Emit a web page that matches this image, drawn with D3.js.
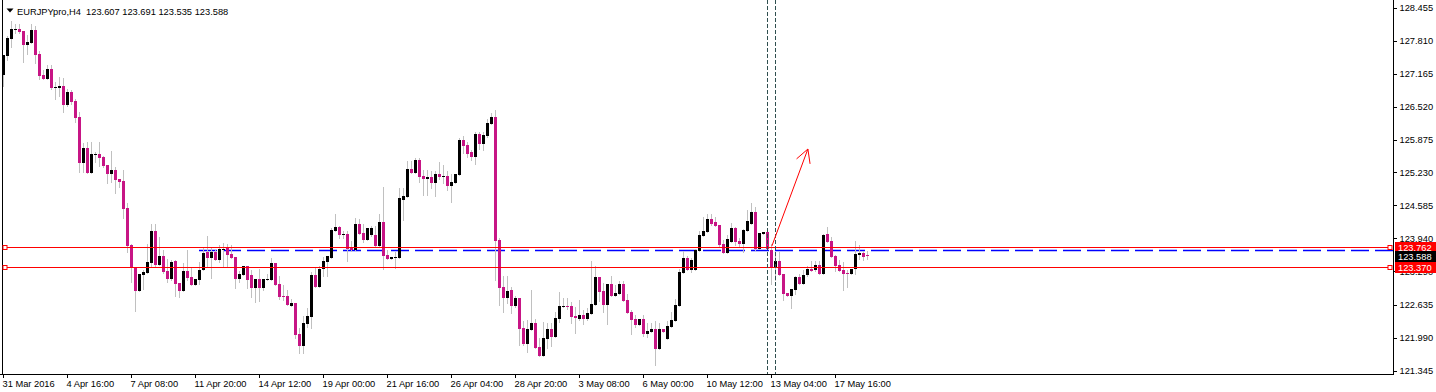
<!DOCTYPE html>
<meta charset="utf-8">
<script src="https://cdn.jsdelivr.net/npm/d3@7"></script>
<style>
    body { margin: 0; background: #fff; }
    svg text { font-family: "Liberation Sans", Arial, sans-serif; font-size: 9.3px; }
</style>
<div id="vis"></div>
<script>
    // EURJPYpro H4 bars, 31 Mar 2016 .. 18 May 2016
    var opens = [
        127.141, 127.514, 127.847, 128.024, 128.043, 128.004, 127.730, 127.769, 128.024, 127.553,
        127.141, 127.063, 127.259, 126.887, 126.887, 126.926, 126.553, 126.808, 126.632, 126.318,
        125.416, 125.710, 125.220, 125.573, 125.592, 125.534, 125.377, 125.200, 125.279, 125.102,
        125.063, 124.534, 123.808, 123.377, 122.906, 123.220, 123.259, 123.455, 124.083, 123.416,
        123.592, 123.298, 123.141, 123.494, 123.063, 122.906, 123.298, 123.181, 123.024, 123.122,
        123.318, 123.671, 123.553, 123.671, 123.514, 123.710, 123.749, 123.632, 123.573, 123.141,
        123.220, 123.396, 123.220, 122.965, 123.141, 122.965, 123.122, 123.122, 123.455, 123.043,
        122.808, 122.808, 122.612, 122.671, 122.063, 121.828, 122.259, 122.396, 123.220, 122.985,
        123.337, 123.475, 123.553, 124.083, 124.161, 124.004, 124.024, 123.769, 123.710, 124.220,
        124.043, 123.906, 124.004, 124.004, 123.788, 124.259, 123.612, 123.534, 123.553, 123.553,
        124.690, 124.749, 125.298, 125.220, 125.475, 125.161, 125.102, 125.141, 125.024, 125.200,
        125.141, 125.161, 124.965, 125.024, 125.181, 125.867, 125.769, 125.632, 125.534, 125.985,
        125.788, 125.945, 126.181, 126.318, 123.906, 122.985, 122.769, 122.926, 122.612, 122.769,
        122.181, 121.867, 122.141, 122.279, 121.808, 121.632, 121.965, 122.161, 122.004, 122.357,
        122.592, 122.612, 122.612, 122.416, 122.357, 122.436, 122.357, 122.455, 122.632, 123.181,
        122.906, 122.632, 123.043, 122.808, 122.847, 123.043, 122.730, 122.494, 122.357, 122.239,
        122.357, 122.063, 122.102, 122.161, 121.769, 122.161, 121.965, 122.200, 122.318, 122.612,
        123.259, 123.553, 123.318, 123.318, 123.690, 123.985, 124.063, 124.318, 124.259, 124.200,
        123.828, 123.651, 123.867, 124.141, 123.887, 123.828, 124.083, 124.220, 124.455, 123.730,
        124.024, 124.063, 123.710, 123.377, 123.494, 123.239, 122.867, 122.808, 122.926, 123.181,
        123.043, 123.220, 123.337, 123.318, 123.416, 123.239, 124.024, 123.887, 123.592, 123.416,
        123.318, 123.259, 123.239, 123.337, 123.612, 123.651, 123.607
    ];
    var highs = [
        127.534, 127.906, 128.200, 128.141, 128.141, 128.004, 127.926, 128.141, 128.102, 127.612,
        127.239, 127.337, 127.337, 127.004, 127.102, 127.083, 126.867, 126.847, 126.671, 126.416,
        125.808, 125.828, 125.828, 125.632, 125.828, 125.553, 125.377, 125.651, 125.337, 125.102,
        125.279, 124.632, 123.828, 123.377, 123.239, 123.318, 123.828, 124.220, 124.220, 123.965,
        123.710, 123.534, 123.514, 123.514, 123.063, 123.455, 123.710, 123.357, 123.141, 123.475,
        123.769, 123.985, 123.769, 123.710, 123.808, 123.847, 123.828, 123.808, 123.573, 123.298,
        123.396, 123.396, 123.318, 123.141, 123.337, 123.141, 123.239, 123.553, 123.455, 123.200,
        123.024, 122.926, 122.749, 122.671, 122.181, 122.416, 122.573, 123.279, 123.357, 123.396,
        123.573, 123.592, 124.141, 124.416, 124.181, 124.083, 124.083, 123.887, 124.337, 124.318,
        124.220, 124.141, 124.181, 124.181, 124.416, 124.945, 123.710, 123.573, 123.671, 124.926,
        124.926, 125.455, 125.455, 125.514, 125.514, 125.279, 125.279, 125.259, 125.259, 125.436,
        125.377, 125.259, 125.200, 125.200, 125.906, 125.945, 125.828, 125.671, 126.024, 126.024,
        126.024, 126.279, 126.396, 126.455, 123.945, 123.200, 123.200, 122.985, 122.808, 122.769,
        122.318, 122.337, 122.926, 122.357, 121.985, 122.298, 122.279, 122.279, 122.494, 122.887,
        122.769, 122.769, 122.690, 122.592, 122.730, 122.534, 122.573, 123.494, 123.396, 123.181,
        123.063, 123.043, 123.200, 123.024, 123.102, 123.102, 122.847, 122.534, 122.436, 122.357,
        122.436, 122.279, 122.279, 122.318, 122.279, 122.161, 122.318, 122.494, 122.749, 123.337,
        123.690, 123.592, 123.553, 123.730, 124.083, 124.357, 124.416, 124.416, 124.357, 124.200,
        123.906, 124.004, 124.239, 124.161, 123.945, 124.122, 124.494, 124.632, 124.553, 124.043,
        124.063, 124.102, 123.828, 123.671, 123.671, 123.239, 122.867, 122.945, 123.200, 123.239,
        123.318, 123.396, 123.494, 123.494, 123.494, 124.024, 124.161, 123.965, 123.612, 123.514,
        123.475, 123.318, 123.337, 123.887, 123.808, 123.690, 123.691
    ];
    var lows = [
        126.926, 127.436, 127.690, 127.965, 127.965, 127.396, 127.553, 127.769, 127.377, 127.063,
        127.063, 127.063, 126.867, 126.671, 126.730, 126.416, 126.534, 126.573, 126.220, 125.239,
        125.239, 125.220, 125.220, 125.436, 125.357, 125.337, 125.024, 125.043, 124.828, 124.945,
        124.337, 123.671, 123.083, 122.514, 122.906, 122.945, 123.259, 123.396, 123.396, 123.416,
        123.259, 123.083, 123.122, 122.808, 122.788, 122.906, 123.122, 123.024, 123.024, 123.043,
        123.318, 123.377, 123.161, 123.514, 123.475, 123.396, 123.396, 123.553, 122.965, 123.083,
        123.220, 122.965, 122.788, 122.690, 122.710, 122.926, 123.122, 123.122, 123.024, 122.749,
        122.730, 122.632, 122.612, 121.985, 121.690, 121.690, 122.200, 122.181, 122.985, 122.985,
        123.200, 123.200, 123.553, 124.083, 123.945, 123.945, 123.494, 123.690, 123.710, 124.024,
        123.867, 123.906, 123.985, 123.769, 123.788, 123.337, 123.534, 123.534, 123.357, 123.553,
        124.298, 124.749, 125.220, 125.220, 125.043, 124.788, 124.788, 124.926, 124.769, 125.102,
        125.024, 124.887, 124.651, 125.024, 125.181, 125.612, 125.534, 125.475, 125.396, 125.690,
        125.671, 125.926, 126.181, 123.122, 122.632, 122.494, 122.671, 122.475, 122.592, 121.847,
        121.847, 121.710, 122.141, 121.788, 121.632, 121.632, 121.788, 121.828, 122.004, 122.298,
        122.592, 122.553, 122.279, 122.083, 122.337, 122.259, 122.337, 122.455, 122.632, 122.710,
        122.494, 122.259, 122.808, 122.808, 122.847, 122.710, 122.475, 122.063, 122.200, 122.239,
        122.024, 122.004, 122.102, 121.455, 121.769, 122.102, 121.965, 122.200, 122.318, 122.612,
        123.259, 123.318, 123.279, 123.318, 123.690, 123.985, 124.063, 124.200, 124.181, 123.788,
        123.651, 123.651, 123.867, 123.808, 123.788, 123.671, 124.083, 124.220, 123.710, 123.730,
        124.024, 123.730, 123.043, 123.122, 123.220, 122.730, 122.808, 122.573, 122.847, 123.043,
        123.043, 123.200, 123.298, 123.298, 123.239, 123.239, 123.867, 123.573, 123.298, 123.298,
        122.926, 122.985, 123.239, 123.239, 123.534, 123.514, 123.535
    ];
    var closes = [
        127.534, 127.867, 128.043, 128.043, 127.985, 127.730, 127.788, 128.024, 127.534, 127.122,
        127.063, 127.259, 126.887, 126.906, 126.926, 126.553, 126.808, 126.612, 126.298, 125.416,
        125.710, 125.220, 125.592, 125.592, 125.514, 125.357, 125.200, 125.279, 125.083, 125.043,
        124.514, 123.788, 123.357, 122.906, 123.239, 123.279, 123.475, 124.083, 123.416, 123.592,
        123.279, 123.141, 123.475, 123.043, 122.906, 123.298, 123.161, 123.024, 123.141, 123.318,
        123.651, 123.553, 123.671, 123.514, 123.730, 123.730, 123.612, 123.553, 123.141, 123.239,
        123.396, 123.122, 122.965, 123.141, 122.965, 123.141, 123.141, 123.455, 123.024, 122.788,
        122.788, 122.632, 122.671, 122.043, 121.828, 122.279, 122.416, 123.220, 122.985, 123.337,
        123.494, 123.592, 124.102, 124.161, 124.004, 124.024, 123.730, 123.710, 124.220, 124.024,
        123.906, 124.141, 124.141, 123.788, 124.259, 123.592, 123.534, 123.573, 123.573, 124.730,
        124.769, 125.298, 125.220, 125.475, 125.141, 125.102, 125.141, 125.024, 125.200, 125.141,
        125.161, 124.965, 125.043, 125.200, 125.867, 125.749, 125.592, 125.534, 125.985, 125.788,
        125.965, 126.200, 126.318, 123.887, 122.965, 122.769, 122.906, 122.612, 122.769, 122.161,
        121.867, 122.161, 122.279, 121.788, 121.632, 121.985, 122.161, 122.004, 122.377, 122.612,
        122.612, 122.592, 122.396, 122.377, 122.436, 122.357, 122.475, 122.651, 123.181, 122.887,
        122.632, 123.043, 122.808, 122.867, 123.043, 122.710, 122.475, 122.337, 122.239, 122.357,
        122.063, 122.122, 122.161, 121.769, 122.161, 122.102, 122.220, 122.337, 122.632, 123.279,
        123.553, 123.318, 123.514, 123.710, 124.004, 124.083, 124.318, 124.220, 124.181, 123.808,
        123.651, 123.926, 124.141, 123.867, 123.828, 124.102, 124.279, 124.455, 123.730, 124.043,
        124.063, 123.730, 123.377, 123.494, 123.220, 122.847, 122.808, 122.945, 123.181, 123.043,
        123.220, 123.337, 123.298, 123.416, 123.239, 124.004, 123.867, 123.573, 123.396, 123.298,
        123.239, 123.239, 123.337, 123.632, 123.651, 123.573, 123.588
    ];

    // one label every 16 bars
    var timeLabels = ["31 Mar 2016", "4 Apr 16:00", "7 Apr 08:00", "11 Apr 20:00", "14 Apr 12:00",
        "19 Apr 00:00", "21 Apr 16:00", "26 Apr 04:00", "28 Apr 20:00", "3 May 08:00",
        "6 May 00:00", "10 May 12:00", "13 May 04:00", "17 May 16:00"];
    var priceTicks = [128.455, 127.810, 127.165, 126.520, 125.875, 125.230, 124.585,
        123.940, 123.290, 122.635, 121.990, 121.345];

    var title = "EURJPYpro,H4  123.607 123.691 123.535 123.588";
    var levels = [123.762, 123.370];      // red horizontal lines
    var bidPrice = 123.588;
    var blueLine = [49, 123.710];         // start bar, price
    var vLineBars = [191, 193];
    var arrowFrom = [192.1, 123.79], arrowTo = [201.1, 125.69];

    // sizes
    var W = 1436, H = 392, plotR = 1393, plotB = 374;
    var BULL = "#000000", BEAR = "#c71585", WICK = "#c0c0c0", RED = "rgb(255,0,0)";

    var svg = d3.select("#vis").append("svg")
        .attr("width", W).attr("height", H);

    var n = opens.length;
    var x = d3.scaleLinear().domain([0, n - 1]).range([3.5, 3.5 + 4 * (n - 1)]);
    var y = d3.scaleLinear().domain([121.279, 128.612]).range([plotB, 0]);
    var py = function (p) { return Math.round(y(p)) + 0.5; };

    var bars = opens.map(function (o, i) {
        return { i: i, o: o, h: highs[i], l: lows[i], c: closes[i] };
    });

    // frame
    var frame = svg.append("g").attr("shape-rendering", "crispEdges").attr("stroke", "#000");
    frame.append("line").attr("x1", 2.5).attr("x2", 2.5).attr("y1", 0).attr("y2", plotB);
    frame.append("line").attr("x1", 0).attr("x2", plotR + 1).attr("y1", plotB + 0.5).attr("y2", plotB + 0.5);
    frame.append("line").attr("x1", plotR + 0.5).attr("x2", plotR + 0.5).attr("y1", 0).attr("y2", plotB + 1);

    // blue dashed line
    svg.append("line")
        .attr("x1", x(blueLine[0]) - 0.5).attr("x2", plotR)
        .attr("y1", py(blueLine[1])).attr("y2", py(blueLine[1]))
        .style("stroke", "#0000ff").attr("stroke-width", 1.3)
        .attr("stroke-dasharray", "18,6");

    // candles
    var cg = svg.append("g").attr("shape-rendering", "crispEdges");
    cg.selectAll("line.wick")
        .data(bars)
        .enter()
        .append("line")
        .attr("class", "wick")
        .attr("x1", function (d) { return x(d.i); })
        .attr("x2", function (d) { return x(d.i); })
        .attr("y1", function (d) { return Math.round(y(d.h)); })
        .attr("y2", function (d) { return Math.round(y(d.l)) + 1; })
        .attr("stroke", WICK);
    cg.selectAll("rect.body")
        .data(bars)
        .enter()
        .append("rect")
        .attr("class", "body")
        .attr("x", function (d) { return x(d.i) - 1.5; })
        .attr("width", 3)
        .attr("y", function (d) { return Math.round(y(Math.max(d.o, d.c))); })
        .attr("height", function (d) {
            return Math.max(1, Math.round(y(Math.min(d.o, d.c))) - Math.round(y(Math.max(d.o, d.c))));
        })
        .attr("fill", function (d) { return d.c >= d.o ? BULL : BEAR; });

    // red levels with end squares
    var lg = svg.append("g");
    levels.forEach(function (lv) {
        lg.append("rect")
            .attr("x", 5).attr("y", Math.round(y(lv)))
            .attr("width", plotR - 8).attr("height", 1)
            .style("fill", RED);
        [5, plotR - 3].forEach(function (sx) {
            lg.append("rect")
                .attr("x", sx - 2.5).attr("y", Math.round(y(lv)) - 2)
                .attr("width", 5).attr("height", 5)
                .style("fill", RED);
            lg.append("rect")
                .attr("x", sx - 1.5).attr("y", Math.round(y(lv)) - 1)
                .attr("width", 3).attr("height", 3)
                .style("fill", "#fff");
        });
    });

    // vertical dashed lines
    vLineBars.forEach(function (b) {
        svg.append("line")
            .attr("x1", x(b)).attr("x2", x(b))
            .attr("y1", 0).attr("y2", plotB)
            .attr("stroke", "#2f4f4f")
            .attr("stroke-dasharray", "4,2")
            .attr("shape-rendering", "crispEdges");
    });

    // arrow
    var ax0 = x(arrowFrom[0]), ay0 = y(arrowFrom[1]), ax1 = x(arrowTo[0]), ay1 = y(arrowTo[1]);
    var ang = Math.atan2(ay0 - ay1, ax0 - ax1);
    var arrowPath = "M" + ax0 + "," + ay0 + "L" + ax1 + "," + ay1;
    [0.5, -0.5].forEach(function (da) {
        arrowPath += "M" + ax1 + "," + ay1 + "L" + (ax1 + 15 * Math.cos(ang + da)) + "," + (ay1 + 15 * Math.sin(ang + da));
    });
    svg.append("path").attr("d", arrowPath).attr("fill", "none").attr("stroke", RED);

    // price axis
    var yAxis = svg.append("g")
        .attr("transform", "translate(" + (plotR + 0.5) + ",0)")
        .call(d3.axisRight(y).tickValues(priceTicks).tickSize(3).tickFormat(d3.format(".3f")));
    yAxis.select(".domain").remove();
    yAxis.attr("font-family", null).attr("font-size", null);
    yAxis.selectAll("line").attr("stroke", "#000").attr("shape-rendering", "crispEdges");
    yAxis.selectAll("text").attr("x", 6).attr("fill", "#000");

    // time axis
    var xAxis = svg.append("g")
        .attr("transform", "translate(-0.5," + (plotB + 0.5) + ")")
        .call(d3.axisBottom(x).tickValues(d3.range(0, n, 16)).tickSize(3)
            .tickFormat(function (d, k) { return timeLabels[k]; }));
    xAxis.select(".domain").remove();
    xAxis.attr("font-family", null).attr("font-size", null);
    xAxis.selectAll("line").attr("stroke", "#000").attr("shape-rendering", "crispEdges");
    xAxis.selectAll("text").attr("text-anchor", "start").attr("x", -1).attr("y", 6).attr("fill", "#000");

    // price labels on the axis
    var tags = levels.map(function (v) { return { v: v, bg: RED }; });
    tags.splice(1, 0, { v: bidPrice, bg: "#000000" });
    tags.forEach(function (t) {
        var cy = Math.round(y(t.v));
        svg.append("rect")
            .attr("x", plotR + 2).attr("y", cy - 5)
            .attr("width", 41).attr("height", 11)
            .style("fill", t.bg).attr("shape-rendering", "crispEdges");
        svg.append("text")
            .attr("x", plotR + 5).attr("y", cy + 0.5)
            .attr("dy", "0.35em")
            .attr("fill", "#fff")
            .text(d3.format(".3f")(t.v));
    });

    // title
    svg.append("path").attr("d", "M6.5,8.5L13.5,8.5L10,12.5Z").attr("fill", "#000");
    svg.append("text")
        .attr("x", 17).attr("y", 15)
        .style("white-space", "pre")
        .attr("fill", "#000")
        .text(title);
</script>
